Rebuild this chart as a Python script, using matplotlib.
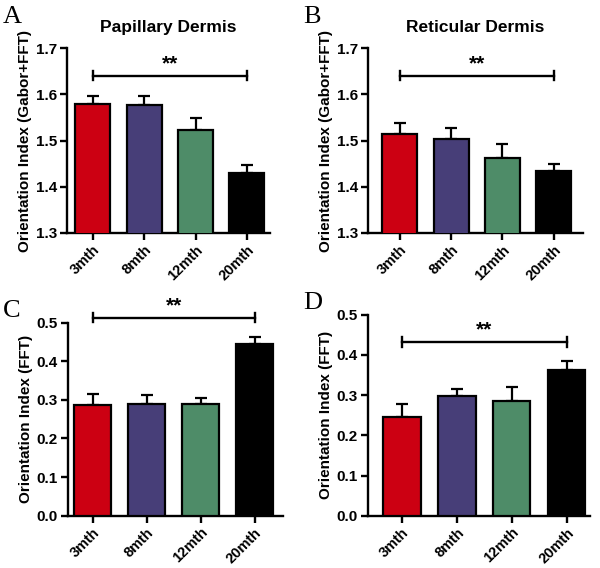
import matplotlib
matplotlib.use("Agg")
import matplotlib.pyplot as plt

plt.rcParams["font.family"] = ["Liberation Sans", "DejaVu Sans"]
plt.rcParams["font.weight"] = "bold"

groups = ["3mth", "8mth", "12mth", "20mth"]
colors = ["#cc0012", "#473e78", "#4e8c68", "#000000"]

pap_gabor = [1.580, 1.577, 1.523, 1.430]
pap_gabor_err = [0.017, 0.020, 0.025, 0.018]
ret_gabor = [1.515, 1.503, 1.463, 1.435]
ret_gabor_err = [0.023, 0.025, 0.030, 0.014]
pap_fft = [0.287, 0.289, 0.289, 0.445]
pap_fft_err = [0.028, 0.024, 0.015, 0.017]
ret_fft = [0.245, 0.297, 0.285, 0.363]
ret_fft_err = [0.032, 0.019, 0.035, 0.021]

# (values, errors, ylim, yticks, ylabel, title, letter, sig_y, rect, xlim)
panels = [
    (pap_gabor, pap_gabor_err, (1.3, 1.7), [1.3, 1.4, 1.5, 1.6, 1.7],
     "Orientation Index (Gabor+FFT)", "Papillary Dermis", "A", 1.641,
     [0.112, 0.590, 0.338, 0.325], (-0.5, 3.45)),
    (ret_gabor, ret_gabor_err, (1.3, 1.7), [1.3, 1.4, 1.5, 1.6, 1.7],
     "Orientation Index (Gabor+FFT)", "Reticular Dermis", "B", 1.641,
     [0.613, 0.590, 0.359, 0.325], (-0.62, 3.57)),
    (pap_fft, pap_fft_err, (0.0, 0.5), [0.0, 0.1, 0.2, 0.3, 0.4, 0.5],
     "Orientation Index (FFT)", None, "C", 0.513,
     [0.113, 0.092, 0.358, 0.340], (-0.46, 3.52)),
    (ret_fft, ret_fft_err, (0.0, 0.5), [0.0, 0.1, 0.2, 0.3, 0.4, 0.5],
     "Orientation Index (FFT)", None, "D", 0.432,
     [0.613, 0.092, 0.370, 0.354], (-0.62, 3.42)),
]

fig = plt.figure(figsize=(6, 5.68), dpi=100)

for vals, errs, ylim, yticks, ylabel, title, letter, sig_y, rect, xlim in panels:
    ax = fig.add_axes(rect)
    x = range(len(groups))
    ax.bar(x, vals, width=0.68, color=colors, edgecolor="black",
           linewidth=1.6, zorder=3)
    ax.errorbar(x, vals, yerr=[[0] * len(errs), errs], fmt="none",
                ecolor="black", elinewidth=1.6, capsize=4.5, capthick=1.6,
                zorder=2)
    ax.set_ylim(*ylim)
    ax.set_xlim(*xlim)
    ax.set_yticks(yticks)
    ax.set_yticklabels([f"{t:.1f}" for t in yticks], fontsize=11,
                       fontweight="bold")
    ax.set_xticks(list(x))
    ax.set_xticklabels(groups, rotation=45, ha="right",
                       rotation_mode="anchor", fontsize=10.5,
                       fontweight="bold")
    ax.set_ylabel(ylabel, fontsize=11, fontweight="bold", labelpad=3)
    for side in ("top", "right"):
        ax.spines[side].set_visible(False)
    for side in ("left", "bottom"):
        ax.spines[side].set_linewidth(1.7)
    ax.tick_params(width=1.7, length=5, pad=2)
    if title:
        ax.set_title(title, fontsize=12.5, fontweight="bold", pad=12)

    # significance bracket
    ax.plot([0, 3], [sig_y, sig_y], color="black", lw=1.7, clip_on=False)
    h = (ylim[1] - ylim[0]) * 0.025
    for xe in (0, 3):
        ax.plot([xe, xe], [sig_y - h, sig_y + h], color="black", lw=1.7,
                clip_on=False)
    ax.text(1.5, sig_y + h * 0.5, "**", ha="center", va="bottom",
            fontsize=15, fontweight="bold", clip_on=False)

    fig.text(rect[0] - 0.108,
             rect[1] + rect[3] + (0.075 if letter in "AB" else 0.04),
             letter, fontsize=19, family="Liberation Serif",
             fontweight="normal", va="top")

fig.savefig("out.png", dpi=100)
